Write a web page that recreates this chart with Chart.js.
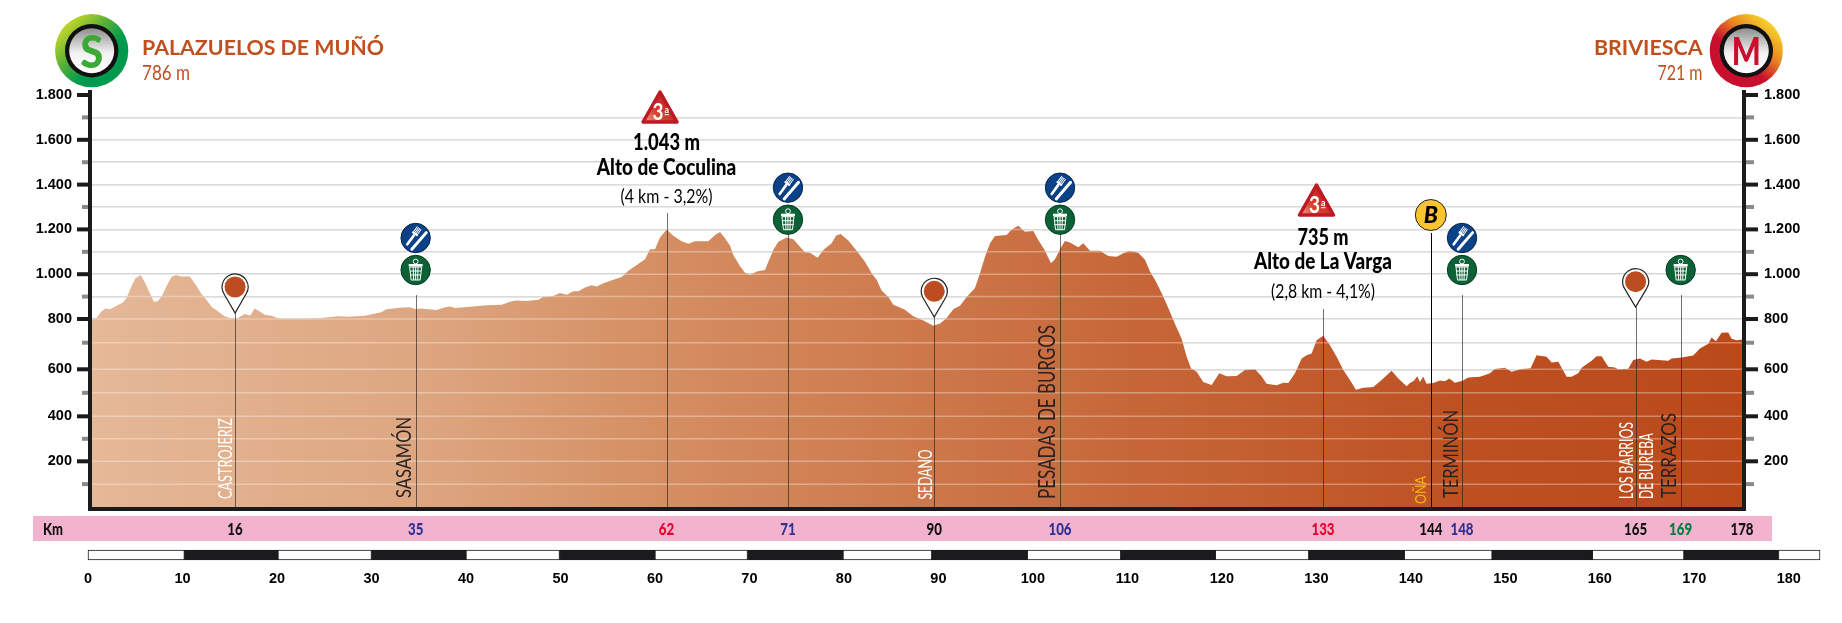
<!DOCTYPE html>
<html>
<head>
<meta charset="utf-8">
<title>Perfil de etapa</title>
<script src="https://cdn.jsdelivr.net/npm/chart.js@4"></script>
<style>
  html, body { margin: 0; padding: 0; background: #fff; }
  #wrap { position: relative; width: 1842px; height: 623px; overflow: hidden; }
  canvas { position: absolute; left: 0; top: 0; }
</style>
</head>
<body>
<div id="wrap">
  <canvas id="profileChart" width="1842" height="623"></canvas>
  <canvas id="scaleChart" width="1842" height="623"></canvas>
</div>
<script>
// --- Data ---
const profileKm = [
  0.42, 0.88, 1.41, 1.83, 2.29, 2.75, 3.17, 3.70, 4.06, 4.51, 5.01, 5.57, 6.07, 6.53, 6.98, 7.34, 7.76, 8.29, 8.82, 9.28,
  9.88, 10.76, 11.29, 11.99, 12.52, 13.12, 13.76, 14.46, 14.99, 15.70, 16.16, 16.58, 17.18, 17.64, 18.17, 18.69, 19.40, 20.11, 20.81, 22.93,
  24.69, 26.46, 27.51, 29.28, 30.16, 31.04, 31.57, 32.28, 32.98, 34.04, 34.74, 35.13, 36.01, 36.89, 37.78, 38.30, 38.83, 40.42, 42.18, 43.77,
  44.65, 45.36, 46.42, 47.65, 48.18, 49.06, 49.95, 50.65, 51.36, 51.89, 52.59, 53.30, 53.82, 54.53, 55.59, 56.47, 57.18, 58.06, 58.94, 59.47,
  60.00, 60.53, 61.23, 61.94, 62.82, 63.52, 64.23, 65.64, 66.35, 66.88, 67.41, 67.94, 68.29, 68.99, 69.52, 70.05, 70.76, 71.64, 71.99, 72.52,
  73.05, 73.93, 74.64, 75.34, 75.87, 76.40, 77.21, 77.81, 78.69, 79.15, 79.64, 80.46, 81.34, 82.22, 82.92, 83.45, 83.98, 84.69, 85.22, 86.45,
  87.33, 88.39, 89.45, 90.16, 90.86, 91.57, 92.27, 92.98, 93.86, 94.39, 94.92, 95.45, 95.98, 97.21, 97.74, 98.44, 99.15, 100.03, 100.56, 101.27,
  101.90, 102.32, 102.92, 103.38, 103.91, 104.79, 105.32, 106.03, 107.09, 107.97, 108.85, 109.56, 110.26, 111.14, 111.85, 112.38, 112.91, 113.61, 114.32, 115.02,
  115.73, 116.26, 116.72, 117.32, 118.02, 118.90, 119.71, 120.49, 121.55, 122.43, 123.49, 124.19, 124.72, 125.78, 126.49, 127.02, 127.72, 128.43, 128.96, 129.49,
  130.01, 130.72, 131.43, 132.13, 132.84, 133.54, 134.18, 134.95, 136.01, 136.89, 137.95, 138.66, 139.54, 139.89, 140.31, 140.67, 140.95, 141.30, 141.65, 142.36,
  143.06, 143.59, 144.05, 144.65, 145.46, 146.06, 147.30, 148.36, 148.88, 149.94, 150.65, 151.71, 152.66, 153.29, 154.35, 154.88, 155.59, 156.47, 156.99, 157.70,
  158.06, 159.11, 159.64, 160.17, 160.88, 161.58, 161.93, 162.99, 163.52, 164.23, 164.93, 165.46, 167.23, 167.58, 168.64, 169.87, 170.58, 171.46, 171.81, 172.27,
  172.87, 173.57, 173.93, 174.46, 175.03
];
const profileElevation = [
  800, 804, 834, 847, 844, 853, 862, 874, 893, 938, 982, 996, 960, 916, 877, 879, 898, 945, 987, 997,
  990, 990, 960, 913, 886, 853, 834, 812, 804, 800, 812, 822, 816, 847, 833, 819, 815, 803, 800, 800,
  804, 812, 810, 815, 822, 830, 844, 847, 850, 852, 844, 847, 844, 840, 853, 856, 849, 855, 861, 864,
  877, 883, 880, 886, 898, 901, 916, 908, 924, 924, 941, 951, 945, 960, 975, 988, 1015, 1041, 1067, 1111,
  1111, 1164, 1200, 1172, 1147, 1136, 1147, 1147, 1175, 1188, 1160, 1127, 1086, 1037, 1007, 997, 1012, 1019, 1056, 1108,
  1145, 1164, 1156, 1123, 1098, 1096, 1074, 1108, 1138, 1172, 1179, 1150, 1105, 1056, 1004, 975, 927, 898, 864, 841,
  812, 794, 771, 781, 804, 844, 859, 898, 938, 1004, 1078, 1138, 1170, 1175, 1200, 1216, 1190, 1193, 1153, 1105,
  1049, 1067, 1116, 1148, 1141, 1120, 1138, 1105, 1105, 1081, 1078, 1093, 1105, 1096, 1064, 1012, 975, 916, 849, 780,
  717, 647, 604, 590, 546, 533, 583, 571, 572, 597, 600, 571, 539, 532, 543, 542, 583, 641, 653, 659,
  710, 729, 690, 647, 597, 554, 513, 522, 525, 554, 594, 561, 528, 542, 551, 571, 546, 568, 539, 542,
  552, 549, 561, 543, 551, 565, 568, 583, 601, 606, 590, 601, 604, 653, 647, 626, 628, 568, 568, 583,
  606, 632, 649, 649, 610, 607, 600, 602, 635, 641, 628, 637, 632, 641, 644, 652, 678, 696, 722, 706,
  742, 743, 717, 710, 714
];
const yTickLabels = ['1.800', '1.600', '1.400', '1.200', '1.000', '800', '600', '400', '200'];
const yTickValues = [1800, 1600, 1400, 1200, 1000, 800, 600, 400, 200];

const stopKm = [15.56, 34.67, 61.22, 74.07, 89.55, 102.86, 130.69, 142.1, 145.4, 163.77, 168.54, 175.03];
const stopKmLabels = ['16', '35', '62', '71', '90', '106', '133', '144', '148', '165', '169', '178'];
const stopNames = ['CASTROJERIZ', 'SASAMÓN', '', '', 'SEDANO', 'PESADAS DE BURGOS', '', 'OÑA', 'TERMINÓN', 'LOS BARRIOS', 'TERRAZOS', ''];

const scaleEdges = [0, 10.2, 20.1, 30, 40, 49.9, 60, 69.8, 79.9, 89.3, 99.4, 109.3, 119.3, 129.2, 139.3, 148.6, 159.2, 168.9, 178.9, 183.3];

const startName = 'PALAZUELOS DE MUÑÓ';
const startHeight = '786 m';
const finishName = 'BRIVIESCA';
const finishHeight = '721 m';
const climbHeights = ['1.043 m', '735 m'];
const climbNames = ['Alto de Coculina', 'Alto de La Varga'];
const climbDetails = ['(4 km - 3,2%)', '(2,8 km - 4,1%)'];

// --- Styles ---
const SANS = '"Liberation Sans", Arial, sans-serif';
const LATO = 'Lato, "Open Sans", sans-serif';
const TEXT_BROWN = '#c0501f';
const NAVY = '#2e3192';
const RED = '#e4002b';
const GREEN = '#007a3d';
const kmColors = ['#111', NAVY, RED, NAVY, '#111', NAVY, RED, '#111', NAVY, '#111', GREEN, '#111'];

// The printed axis is not evenly spaced, so the scale follows its steps
const axisValues = [0, 200, 400, 600, 700, 800, 1800];
const axisFractions = [0, 0.1109, 0.2201, 0.3342, 0.3988, 0.4563, 1];

class ProfileScale extends Chart.LinearScale {
  getPixelForValue(value) {
    if (value === null || value === undefined) return NaN;
    let i = 0;
    while (i < axisValues.length - 2 && value > axisValues[i + 1]) i++;
    const t = (value - axisValues[i]) / (axisValues[i + 1] - axisValues[i]);
    return this.getPixelForDecimal(axisFractions[i] + t * (axisFractions[i + 1] - axisFractions[i]));
  }
}
ProfileScale.id = 'profile';
ProfileScale.defaults = {};
Chart.register(ProfileScale);

// Text squeezed to the width measured on the picture
function fitText(ctx, text, x, y, font, color, width, align) {
  ctx.save();
  ctx.font = font;
  ctx.fillStyle = color;
  ctx.textBaseline = 'alphabetic';
  ctx.textAlign = 'left';
  const natural = ctx.measureText(text).width;
  let left = x;
  if (align === 'center') left = x - width / 2;
  if (align === 'right') left = x - width;
  ctx.translate(left, y);
  ctx.scale(width / natural, 1);
  ctx.fillText(text, 0, 0);
  ctx.restore();
}

function upText(ctx, text, x, bottom, font, color, length) {
  ctx.save();
  ctx.translate(x, bottom);
  ctx.rotate(-Math.PI / 2);
  fitText(ctx, text, 0, 0, font, color, length, 'left');
  ctx.restore();
}

function disc(ctx, x, y, r, fill, stroke) {
  ctx.beginPath();
  ctx.arc(x, y, r, 0, Math.PI * 2);
  ctx.fillStyle = fill;
  ctx.fill();
  if (stroke) {
    ctx.lineWidth = 1;
    ctx.strokeStyle = stroke;
    ctx.stroke();
  }
}

function foodIcon(ctx, x, y) {
  disc(ctx, x, y, 14.7, '#0b4186', '#06244d');
  ctx.save();
  ctx.translate(x, y);
  ctx.strokeStyle = '#fff';
  ctx.fillStyle = '#fff';
  ctx.lineCap = 'round';
  // fork
  ctx.save();
  ctx.rotate(Math.PI / 5);
  ctx.lineWidth = 2.6;
  ctx.beginPath(); ctx.moveTo(-3, -1); ctx.lineTo(-3, 10); ctx.stroke();
  ctx.lineWidth = 1;
  [-5.4, -3.8, -2.2, -0.6].forEach(dx => {
    ctx.beginPath(); ctx.moveTo(dx, -10); ctx.lineTo(dx, -3); ctx.stroke();
  });
  ctx.lineWidth = 2;
  ctx.beginPath(); ctx.moveTo(-5.4, -3); ctx.lineTo(-0.6, -3); ctx.stroke();
  ctx.restore();
  // knife
  ctx.save();
  ctx.rotate(Math.PI / 4.4);
  ctx.lineWidth = 3;
  ctx.beginPath(); ctx.moveTo(4.5, -11); ctx.lineTo(4.5, 11); ctx.stroke();
  ctx.restore();
  ctx.restore();
}

function trashIcon(ctx, x, y) {
  disc(ctx, x, y, 14.7, '#0c6136', '#053b20');
  ctx.save();
  ctx.translate(x, y);
  ctx.strokeStyle = '#fff';
  ctx.fillStyle = '#fff';
  ctx.lineWidth = 1;
  ctx.fillRect(-7, -6, 14, 2.5);
  ctx.beginPath();
  ctx.moveTo(-6, -3); ctx.lineTo(-4.5, 10); ctx.lineTo(4.5, 10); ctx.lineTo(6, -3);
  ctx.closePath();
  ctx.stroke();
  [-2.4, 0, 2.4].forEach(dx => {
    ctx.beginPath(); ctx.moveTo(dx, -3); ctx.lineTo(dx * 0.85, 10); ctx.stroke();
  });
  [1, 5].forEach(dy => {
    ctx.beginPath(); ctx.moveTo(-5.5, dy); ctx.lineTo(5.5, dy); ctx.stroke();
  });
  ctx.beginPath(); ctx.arc(0, -8.5, 2.4, 0, Math.PI * 2); ctx.stroke();
  ctx.restore();
}

function pin(ctx, x, y, tipY) {
  ctx.save();
  ctx.beginPath();
  ctx.arc(x, y, 13, Math.PI * 0.82, Math.PI * 0.18);
  ctx.lineTo(x, tipY);
  ctx.closePath();
  ctx.fillStyle = '#fff';
  ctx.fill();
  ctx.lineWidth = 1.2;
  ctx.strokeStyle = '#222';
  ctx.stroke();
  ctx.restore();
  disc(ctx, x, y, 10.5, '#bd4c20');
}

function climbTriangle(ctx, x, top) {
  const bottom = top + 34;
  ctx.save();
  ctx.beginPath();
  ctx.moveTo(x, top + 2);
  ctx.lineTo(x + 17, bottom - 2);
  ctx.lineTo(x - 17, bottom - 2);
  ctx.closePath();
  const g = ctx.createLinearGradient(x - 18, bottom, x + 10, top + 8);
  g.addColorStop(0, '#f4b9a8');
  g.addColorStop(0.45, '#d8452f');
  g.addColorStop(1, '#bd1a24');
  ctx.fillStyle = g;
  ctx.strokeStyle = '#bd1a24';
  ctx.lineWidth = 3.5;
  ctx.lineJoin = 'round';
  ctx.fill();
  ctx.stroke();
  ctx.restore();
  fitText(ctx, '3', x - 7.5, bottom - 4, 'bold 22px ' + LATO, '#fff', 11, 'left');
  fitText(ctx, 'a', x + 4.5, bottom - 11, 'bold 9px ' + LATO, '#fff', 4.5, 'left');
  ctx.fillStyle = '#fff';
  ctx.fillRect(x + 4.5, bottom - 9.8, 4.5, 1);
}

function badge(ctx, x, y, letter, letterColor, letterSize, letterWidth, letterBase, stops, fromX, fromY, toX, toY) {
  const g = ctx.createLinearGradient(x + fromX, y + fromY, x + toX, y + toY);
  stops.forEach((c, i) => g.addColorStop(i / (stops.length - 1), c));
  disc(ctx, x, y, 36.6, g);
  disc(ctx, x, y, 26.7, '#111');
  const inner = ctx.createLinearGradient(x, y - 23, x, y + 23);
  inner.addColorStop(0, '#8c8c8c');
  inner.addColorStop(0.55, '#f2f2f2');
  inner.addColorStop(1, '#ffffff');
  disc(ctx, x, y, 22.5, inner);
  fitText(ctx, letter, x, letterBase, '900 ' + letterSize + 'px ' + LATO, letterColor, letterWidth, 'center');
}

// Everything the profile needs on top of the area: axis bars, stops, icons, text
const profileDecor = {
  id: 'profileDecor',
  afterDatasetsDraw(chart) {
    const { ctx, scales: { y }, chartArea: area } = chart;
    ctx.save();
    ctx.strokeStyle = 'rgba(255,255,255,0.33)';
    ctx.lineWidth = 1.5;
    for (let v = 100; v < 1800; v += 100) {
      const py = y.getPixelForValue(v);
      ctx.beginPath(); ctx.moveTo(area.left, py); ctx.lineTo(area.right, py); ctx.stroke();
    }
    ctx.restore();
  },
  afterDraw(chart) {
    const { ctx, scales: { x, y }, chartArea: area } = chart;
    const kmX = k => x.getPixelForValue(k);
    const bar = '#1b1a1c';

    // pink km band sits behind the labels
    ctx.fillStyle = '#f3b3cf';
    ctx.fillRect(33, 516, 1739, 25);

    // stop lines, top end depends on what is on top of them
    const lineTops = [313, 295, 213, 234, 317, 234, 309, 233, 295, 307, 295];
    lineTops.forEach((top, i) => {
      ctx.strokeStyle = i === 7 ? '#000' : 'rgba(30,25,25,0.62)';
      ctx.lineWidth = 1;
      const lx = Math.round(kmX(stopKm[i])) + 0.5;
      ctx.beginPath(); ctx.moveTo(lx, top); ctx.lineTo(lx, area.bottom + 4); ctx.stroke();
    });

    // axis bars
    ctx.fillStyle = bar;
    ctx.fillRect(area.left - 4, 90, 4, area.bottom + 4 - 90);
    ctx.fillRect(area.right, 90, 4, area.bottom + 4 - 90);
    ctx.fillRect(area.left - 4, area.bottom, area.right - area.left + 8, 4);
    for (let v = 100; v <= 1800; v += 100) {
      const py = y.getPixelForValue(v);
      const major = yTickValues.includes(v);
      ctx.fillStyle = major ? bar : '#8a8a8a';
      const lenL = major ? 11 : 6;
      const lenR = major ? 12 : 8;
      ctx.fillRect(area.left - 4 - lenL, py - 2, lenL, 4);
      ctx.fillRect(area.right + 4, py - 2, lenR, 4);
    }

    // place names, bottom to top
    const white = '#fff', dark = '#2a2222';
    const reg = s => s + 'px ' + LATO;
    const labelStyle = [
      [-3.5, 499, 19, white, 81], [-4.5, 498, 21, dark, 81], null, null,
      [-2.5, 499.5, 20, white, 50], [-5, 499, 23, dark, 174], null,
      [-5, 504, 16, '#f6b80a', 28], [-4.5, 498, 21, dark, 88],
      [-2.5, 499, 19, white, 77], [-5, 498, 22, dark, 85], null
    ];
    stopNames.forEach((name, i) => {
      const s = labelStyle[i];
      if (!name || !s) return;
      upText(ctx, name, kmX(stopKm[i]) + s[0], s[1], reg(s[2]), s[3], s[4]);
    });
    upText(ctx, 'DE BUREBA', kmX(stopKm[9]) + 17.5, 499, reg(19), white, 66);

    // icons
    [1, 3, 5, 8].forEach(i => {
      const low = i === 1 || i === 8;
      foodIcon(ctx, kmX(stopKm[i]), low ? 238 : 187.7);
      trashIcon(ctx, kmX(stopKm[i]), low ? 270 : 219.7);
    });
    trashIcon(ctx, kmX(stopKm[10]), 270);
    pin(ctx, kmX(stopKm[0]), 287, 313);
    pin(ctx, kmX(stopKm[4]), 291.3, 317);
    pin(ctx, kmX(stopKm[9]), 281.7, 307);

    // bonus sprint
    disc(ctx, kmX(stopKm[7]), 215, 15.5, '#fcc52f', '#222');
    ctx.save();
    ctx.font = 'italic 900 23px ' + LATO;
    ctx.fillStyle = '#000';
    ctx.textAlign = 'center';
    ctx.textBaseline = 'middle';
    ctx.fillText('B', kmX(stopKm[7]), 216);
    ctx.restore();

    // climbs
    const climbStops = [2, 6];
    const tops = [90, 183];
    const widths = [[67, 139.5, 92], [51, 138, 104]];
    const bases = [[150, 174.5, 202.5], [245, 269, 298]];
    climbStops.forEach((s, i) => {
      const cx = kmX(stopKm[s]);
      climbTriangle(ctx, cx - 6.5, tops[i]);
      fitText(ctx, climbHeights[i], cx, bases[i][0], '900 22px ' + LATO, '#000', widths[i][0], 'center');
      fitText(ctx, climbNames[i], cx, bases[i][1], '900 23px ' + LATO, '#000', widths[i][1], 'center');
      fitText(ctx, climbDetails[i], cx, bases[i][2], '19px ' + LATO, '#000', widths[i][2], 'center');
    });

    // km band text
    fitText(ctx, 'Km', 53, 534.5, '900 17px ' + LATO, '#111', 20, 'center');
    stopKm.forEach((k, i) => {
      const label = stopKmLabels[i];
      fitText(ctx, label, kmX(k), 534.5, '900 17px ' + LATO, kmColors[i], label.length * 7.7, 'center');
    });

    // start and finish
    badge(ctx, 91.7, 50.7, 'S', '#3aaa35', 46, 23, 68, ['#c4d52c', '#5fb336', '#009a4e', '#009a4e'], -26, -26, 26, 26);
    badge(ctx, 1746.3, 50.7, 'M', '#c8102e', 38, 29, 65, ['#f8d12a', '#ea8a23', '#c8102e', '#c8102e'], 26, -26, -20, 26);
    fitText(ctx, startName, 142, 55, 'bold 21px ' + LATO, TEXT_BROWN, 242, 'left');
    fitText(ctx, startHeight, 142, 80, '21px ' + LATO, TEXT_BROWN, 48, 'left');
    fitText(ctx, finishName, 1702.5, 55, 'bold 21px ' + LATO, TEXT_BROWN, 108.5, 'right');
    fitText(ctx, finishHeight, 1702.5, 80, '21px ' + LATO, TEXT_BROWN, 45, 'right');
  }
};

const yTickText = value => {
  const i = yTickValues.indexOf(value);
  return i < 0 ? '' : yTickLabels[i];
};
const tickFont = { family: SANS, size: 14.5, weight: 'bold' };

const yAxis = (position, showGrid) => ({
  type: 'profile',
  position,
  min: 0,
  max: 1800,
  afterFit: axis => { axis.width = 70; },
  border: { display: false },
  grid: {
    display: showGrid,
    drawTicks: false,
    lineWidth: 1.5,
    color: ctx => (ctx.tick.value === 0 || ctx.tick.value === 1800) ? 'rgba(0,0,0,0)' : '#cbcbcb'
  },
  ticks: {
    stepSize: 100,
    autoSkip: false,
    padding: position === 'left' ? 20 : 22,
    color: '#000',
    font: tickFont,
    callback: yTickText
  }
});

new Chart(document.getElementById('profileChart'), {
  type: 'line',
  data: {
    datasets: [{
      data: profileKm.map((k, i) => ({ x: k, y: profileElevation[i] })),
      borderWidth: 0,
      pointRadius: 0,
      tension: 0,
      fill: 'origin',
      backgroundColor: ctx => {
        const area = ctx.chart.chartArea;
        if (!area) return '#c8683a';
        const g = ctx.chart.ctx.createLinearGradient(area.left, 0, area.right, 0);
        g.addColorStop(0, '#e5b898');
        g.addColorStop(0.2, '#dda680');
        g.addColorStop(0.34, '#d58f63');
        g.addColorStop(0.62, '#c7683a');
        g.addColorStop(0.85, '#bd4f20');
        g.addColorStop(1, '#bb4a1b');
        return g;
      }
    }]
  },
  options: {
    responsive: false,
    animation: false,
    devicePixelRatio: 1,
    layout: { padding: { left: 22, right: 30, top: 95, bottom: 116 } },
    plugins: { legend: { display: false }, tooltip: { enabled: false } },
    scales: {
      x: { type: 'linear', display: false, min: 0.42, max: 175.03 },
      y: yAxis('left', true),
      y2: yAxis('right', false)
    }
  },
  plugins: [profileDecor]
});

// --- Distance bar under the profile ---
new Chart(document.getElementById('scaleChart'), {
  type: 'bar',
  data: {
    labels: ['km'],
    datasets: scaleEdges.slice(0, -1).map((edge, i) => ({
      data: [[edge, scaleEdges[i + 1]]],
      backgroundColor: i % 2 ? '#1b1a1c' : '#fff',
      borderColor: '#1b1a1c',
      borderWidth: 1,
      borderSkipped: false,
      grouped: false,
      clip: 3
    }))
  },
  options: {
    indexAxis: 'y',
    responsive: false,
    animation: false,
    devicePixelRatio: 1,
    barPercentage: 1,
    categoryPercentage: 1,
    layout: { padding: { left: 88, right: 22, top: 550, bottom: 23 } },
    plugins: { legend: { display: false }, tooltip: { enabled: false } },
    scales: {
      y: { display: false },
      x: {
        type: 'linear',
        min: 0,
        max: 183.3,
        afterFit: axis => { axis.height = 40; },
        border: { display: false },
        grid: { display: false, drawTicks: false },
        ticks: {
          stepSize: 10,
          includeBounds: false,
          autoSkip: false,
          maxRotation: 0,
          padding: 10,
          color: '#000',
          font: tickFont
        }
      }
    }
  }
});
</script>
</body>
</html>
